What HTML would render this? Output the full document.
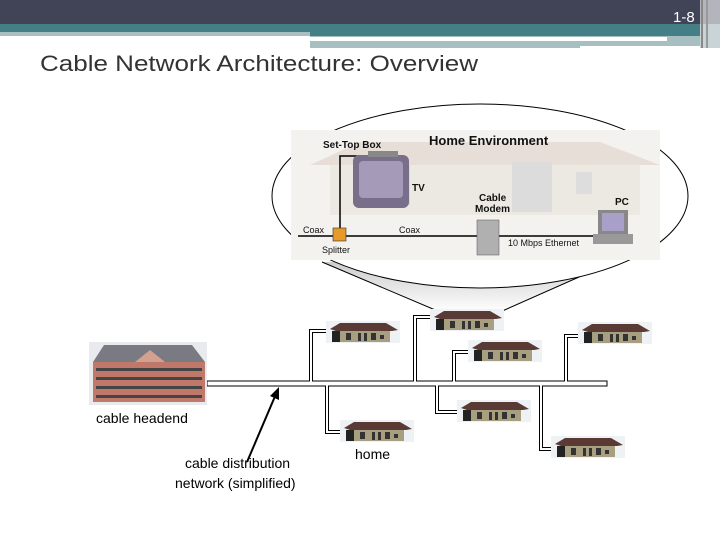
<!DOCTYPE html>
<html><head><style>
html,body{margin:0;padding:0;background:#fff}
svg{display:block}
text{font-family:"Liberation Sans",sans-serif}
</style></head><body>
<svg width="720" height="540" viewBox="0 0 720 540" xmlns="http://www.w3.org/2000/svg">
<defs>
<linearGradient id="cone" x1="0" y1="0" x2="0" y2="1">
<stop offset="0" stop-color="#c8c8c8"/><stop offset="1" stop-color="#fff"/>
</linearGradient>
<g id="house">
<rect x="0" y="0" width="74" height="22" fill="#eef2f4"/>
<polygon points="4,8 14,2 60,2 72,9 66,10 10,10" fill="#5a3a34"/>
<rect x="6" y="10" width="8" height="11" fill="#222"/>
<rect x="14" y="10" width="50" height="11" fill="#a89f80"/>
<rect x="20" y="12" width="5" height="7" fill="#333"/>
<rect x="32" y="12" width="3" height="8" fill="#333"/>
<rect x="38" y="12" width="3" height="8" fill="#333"/>
<rect x="45" y="12" width="5" height="7" fill="#333"/>
<rect x="54" y="14" width="4" height="4" fill="#333"/>
</g>
</defs>
<!-- header -->
<rect x="0" y="0" width="720" height="24" fill="#414356"/>
<rect x="0" y="24" width="700" height="12" fill="#437f84"/>
<rect x="0" y="32" width="310" height="4" fill="#a7bfc1"/>
<rect x="310" y="36" width="390" height="12" fill="#a7bfc1"/>
<rect x="310" y="37" width="357" height="4" fill="#fff"/>
<rect x="310" y="44" width="110" height="4" fill="#fff" opacity="0"/>
<rect x="580" y="46" width="128" height="4" fill="#fff"/>
<rect x="700" y="0" width="20" height="48" fill="#c8d4d6"/>
<rect x="700" y="0" width="20" height="24" fill="#b4b4bc"/>
<rect x="701" y="0" width="2" height="48" fill="#888"/>
<rect x="706" y="0" width="2" height="48" fill="#999"/>
<text x="673" y="22" font-size="15" fill="#fff">1-8</text>
<text x="40" y="71" font-size="22" fill="#333" textLength="438" lengthAdjust="spacingAndGlyphs">Cable Network Architecture: Overview</text>
<!-- cone -->
<polygon points="322,262 440,312 500,312 622,258" fill="url(#cone)"/>
<line x1="322" y1="262" x2="440" y2="312" stroke="#000" stroke-width="1"/>
<line x1="622" y1="258" x2="500" y2="312" stroke="#000" stroke-width="1"/>
<!-- ellipse -->
<ellipse cx="480" cy="196" rx="208" ry="92" fill="#fff" stroke="#000" stroke-width="1"/>
<!-- home environment picture -->
<rect x="291" y="130" width="369" height="130" fill="#f3f2ef"/>
<polygon points="310,165 360,142 600,142 660,165" fill="#e8ded8"/>
<rect x="330" y="165" width="310" height="50" fill="#ece9e3"/>
<rect x="370" y="165" width="40" height="40" fill="#dcd8d2"/>
<rect x="512" y="162" width="40" height="50" fill="#dcdcdc"/>
<rect x="576" y="172" width="16" height="22" fill="#ddd"/>
<text x="429" y="145" font-size="13" font-weight="bold" fill="#111">Home Environment</text>
<text x="323" y="148" font-size="10" font-weight="bold" fill="#111">Set-Top Box</text>
<text x="412" y="191" font-size="10" font-weight="bold" fill="#111">TV</text>
<text x="479" y="201" font-size="10" font-weight="bold" fill="#111">Cable</text>
<text x="475" y="212" font-size="10" font-weight="bold" fill="#111">Modem</text>
<text x="615" y="205" font-size="10" font-weight="bold" fill="#111">PC</text>
<text x="303" y="233" font-size="9" fill="#111">Coax</text>
<text x="399" y="233" font-size="9" fill="#111">Coax</text>
<text x="322" y="253" font-size="9" fill="#111">Splitter</text>
<text x="508" y="246" font-size="9" fill="#111">10 Mbps Ethernet</text>
<polyline points="340,236 340,156 368,156" fill="none" stroke="#000" stroke-width="1.5"/>
<line x1="298" y1="236" x2="600" y2="236" stroke="#000" stroke-width="1.5"/>
<rect x="333" y="228" width="13" height="13" fill="#e69a2a" stroke="#333" stroke-width="0.6"/>
<rect x="353" y="155" width="56" height="53" rx="6" fill="#7a6f8a"/>
<rect x="359" y="161" width="44" height="37" rx="4" fill="#a59ab8"/>
<rect x="368" y="151" width="30" height="6" fill="#888"/>
<rect x="477" y="220" width="22" height="35" fill="#b0b0b0" stroke="#555" stroke-width="0.5"/>
<rect x="598" y="210" width="30" height="24" fill="#888"/>
<rect x="602" y="213" width="22" height="18" fill="#a8a0c8"/>
<rect x="593" y="234" width="40" height="10" fill="#999"/>
<!-- cable bus -->
<rect x="207" y="381" width="400" height="5" fill="#fff" stroke="#000" stroke-width="1"/>
<g fill="none" stroke="#000" stroke-width="4">
<polyline points="311,381 311,331 328,331"/>
<polyline points="327,386 327,432 341,432"/>
<polyline points="415,381 415,317 432,317"/>
<polyline points="437,386 437,412 458,412"/>
<polyline points="454,381 454,352 470,352"/>
<polyline points="566,381 566,336 580,336"/>
<polyline points="541,386 541,449 552,449"/>
</g>
<g fill="none" stroke="#fff" stroke-width="2">
<polyline points="311,382 311,331 328,331"/>
<polyline points="327,385 327,432 341,432"/>
<polyline points="415,382 415,317 432,317"/>
<polyline points="437,385 437,412 458,412"/>
<polyline points="454,382 454,352 470,352"/>
<polyline points="566,382 566,336 580,336"/>
<polyline points="541,385 541,449 552,449"/>
</g>
<rect x="208" y="382" width="398" height="3" fill="#fff"/>
<use href="#house" x="326" y="321"/>
<use href="#house" x="430" y="309"/>
<use href="#house" x="468" y="340"/>
<use href="#house" x="578" y="322"/>
<use href="#house" x="457" y="400"/>
<use href="#house" x="340" y="420"/>
<use href="#house" x="551" y="436"/>
<!-- headend -->
<rect x="89" y="342" width="118" height="63" fill="#e8eaee"/>
<polygon points="93,362 104,345 192,345 205,362" fill="#7a7a82"/>
<rect x="93" y="362" width="112" height="40" fill="#c0786a"/>
<g fill="#444">
<rect x="96" y="368" width="106" height="3"/>
<rect x="96" y="377" width="106" height="3"/>
<rect x="96" y="386" width="106" height="3"/>
<rect x="96" y="395" width="106" height="3"/>
</g>
<polygon points="135,362 150,350 165,362" fill="#d4a090"/>
<text x="96" y="423" font-size="14" fill="#000">cable headend</text>
<!-- arrow -->
<line x1="247" y1="462" x2="276" y2="394" stroke="#000" stroke-width="2"/>
<polygon points="279,387 279,400 270,396" fill="#000"/>
<text x="185" y="468" font-size="14" fill="#000">cable distribution</text>
<text x="175" y="488" font-size="14" fill="#000">network (simplified)</text>
<text x="355" y="459" font-size="14" fill="#000">home</text>
</svg>
</body></html>
